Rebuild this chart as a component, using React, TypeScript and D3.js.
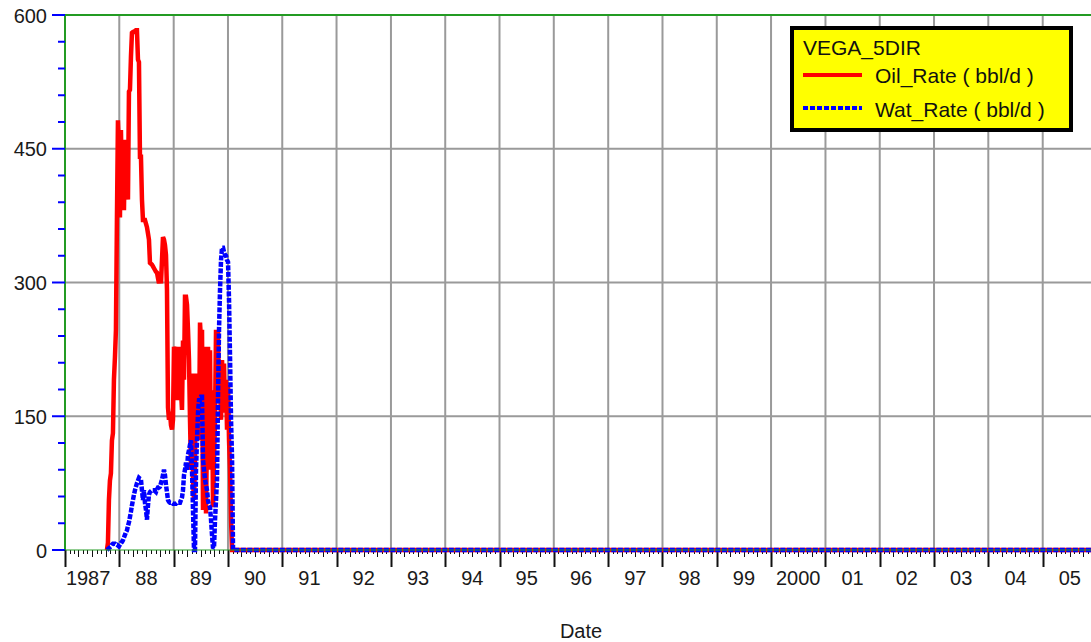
import React from "react";
import * as d3 from "d3";

// well VEGA_5DIR, weekly samples from first production to shut-in
const sampleStart = "1987-10-10";
const sampleEnd = "1990-02-04";
const shutInUntil = "2006-01-01";

const oilRate = [
  0, 8, 56, 78, 86, 123, 131, 191, 216, 247, 373, 482, 449, 373, 471, 404, 460, 381, 460, 404,
  437, 393, 514, 516, 553, 580, 581, 581, 582, 583, 583, 550, 547, 441, 441, 393, 370, 370, 370, 366,
  362, 355, 348, 322, 321, 320, 318, 316, 314, 312, 311, 305, 299, 308, 299, 325, 351, 348, 342, 331,
  292, 160, 146, 155, 140, 135, 146, 228, 202, 228, 168, 219, 191, 228, 179, 157, 235, 191, 284, 284,
  275, 247, 213, 146, 90, 198, 78, 56, 101, 198, 157, 198, 123, 255, 235, 247, 45, 101, 228, 41,
  135, 228, 146, 224, 90, 179, 48, 101, 146, 247, 202, 247, 168, 185, 146, 213, 168, 209, 154, 191,
  135, 185, 123, 90, 34, 0, 0,
];

const watRate = [
  0, 1, 2, 3, 4, 6, 7, 7, 7, 6, 6, 5, 4, 6, 8, 9, 11, 14, 17, 20,
  22, 27, 31, 37, 43, 50, 56, 62, 67, 71, 75, 78, 81, 80, 79, 67, 56, 67, 53, 45,
  34, 50, 62, 65, 66, 67, 67, 67, 66, 65, 68, 70, 70, 71, 75, 79, 84, 90, 84, 73,
  65, 56, 54, 53, 53, 53, 52, 52, 52, 52, 53, 53, 53, 53, 56, 59, 67, 84, 90, 98,
  90, 107, 112, 118, 123, 90, 45, 0, 0, 90, 123, 154, 168, 168, 172, 172, 101, 90, 79, 73,
  67, 56, 50, 48, 34, 17, 2, 3, 34, 56, 79, 172, 247, 292, 325, 339, 339, 334, 331, 330,
  325, 323, 280, 216, 146, 104, 0,
];

const yTicks = [0, 150, 300, 450, 600];
const yearTicks = d3.range(1987, 2006);

const W = 1091;
const H = 642;
const font = "'Liberation Sans', Arial, sans-serif";

export default function App() {
  const t0 = new Date(sampleStart).getTime();
  const t1 = new Date(sampleEnd).getTime();
  const n = oilRate.length;
  const dates = oilRate.map((_, i) => new Date(t0 + ((t1 - t0) * i) / (n - 1)));
  const tail = new Date(shutInUntil);

  const oil = [...oilRate.map((v, i) => ({ d: dates[i], v })), { d: tail, v: 0 }];
  const wat = [...watRate.map((v, i) => ({ d: dates[i], v })), { d: tail, v: 0 }];

  const x = d3
    .scaleTime()
    .domain([new Date(1987, 0, 1), new Date(2006, 0, 1)])
    .range([65, 1097]);
  const y = d3.scaleLinear().domain([0, 600]).range([550, 15]);

  const line = d3
    .line<{ d: Date; v: number }>()
    .x((p) => x(p.d))
    .y((p) => y(p.v));

  const months = d3.timeMonth.range(new Date(1987, 0, 1), new Date(2006, 0, 1));
  const minorY = d3.range(0, 601, 30).filter((v) => v % 150 !== 0);
  const grey = "#9a9a9a";
  const green = "#239b23";

  return (
    <svg
      width={W}
      height={H}
      style={{ position: "absolute", left: 0, top: 0, background: "#fff" }}
    >
      {/* grid */}
      {yearTicks.slice(1).map((yr) => (
        <line key={yr} x1={x(new Date(yr, 0, 1))} x2={x(new Date(yr, 0, 1))} y1={15} y2={550}
          stroke={grey} strokeWidth={2} />
      ))}
      {yTicks.slice(1, -1).map((v) => (
        <line key={v} x1={65} x2={W} y1={y(v)} y2={y(v)} stroke={grey} strokeWidth={2} />
      ))}
      <line x1={65} x2={W} y1={15} y2={15} stroke={green} strokeWidth={2} />
      <line x1={65} x2={65} y1={15} y2={551} stroke={green} strokeWidth={2} />

      {/* y axis */}
      {yTicks.map((v) => (
        <g key={v}>
          <line x1={52} x2={65} y1={y(v)} y2={y(v)} stroke="#0000ff" strokeWidth={2} />
          <text x={47} y={y(v) + 7.5} textAnchor="end" fontFamily={font} fontSize={20} fill="#1a1a1a">
            {v}
          </text>
        </g>
      ))}
      {minorY.map((v) => (
        <line key={v} x1={58} x2={65} y1={y(v)} y2={y(v)} stroke="#0000ff" strokeWidth={2} />
      ))}

      {/* x axis */}
      {months.map((m) => {
        const isYear = m.getMonth() === 0;
        const len = isYear ? 17 : m.getMonth() % 3 === 0 ? 7 : 4;
        return (
          <line key={m.getTime()} x1={Math.round(x(m)) + 0.5} x2={Math.round(x(m)) + 0.5}
            y1={550} y2={550 + len} stroke="#111" strokeWidth={isYear ? 2 : 1} />
        );
      })}
      {yearTicks.map((yr) => {
        const cx = (x(new Date(yr, 0, 1)) + x(new Date(yr + 1, 0, 1))) / 2;
        const label = yr === 1987 || yr === 2000 ? String(yr) : String(yr).slice(2);
        return (
          <text key={yr} x={yr === 1987 ? cx - 4 : cx} y={585} textAnchor="middle"
            fontFamily={font} fontSize={20} fill="#1a1a1a">
            {label}
          </text>
        );
      })}
      <text x={581} y={638} textAnchor="middle" fontFamily={font} fontSize={20} fill="#1a1a1a">
        Date
      </text>

      {/* series */}
      <path d={line(oil) ?? ""} fill="none" stroke="#ff0000" strokeWidth={4.5}
        strokeLinejoin="miter" strokeMiterlimit={2} />
      <path d={line(wat) ?? ""} fill="none" stroke="#0000ff" strokeWidth={4.5}
        strokeDasharray="5 1.5" strokeMiterlimit={2} />
      <line x1={65} x2={W} y1={550} y2={550} stroke={green} strokeWidth={1} />

      {/* legend */}
      <rect x={792} y={28} width={279} height={102} fill="#ffff00" stroke="#000" strokeWidth={4} />
      <text x={803} y={55} fontFamily={font} fontSize={21} fill="#111">VEGA_5DIR</text>
      <line x1={803} x2={862} y1={75} y2={75} stroke="#ff0000" strokeWidth={4} />
      <text x={875} y={83} fontFamily={font} fontSize={21} fill="#111">Oil_Rate ( bbl/d )</text>
      <line x1={803} x2={862} y1={108} y2={108} stroke="#0000ff" strokeWidth={4}
        strokeDasharray="5 2" />
      <text x={875} y={117} fontFamily={font} fontSize={21} fill="#111">Wat_Rate ( bbl/d )</text>
    </svg>
  );
}
